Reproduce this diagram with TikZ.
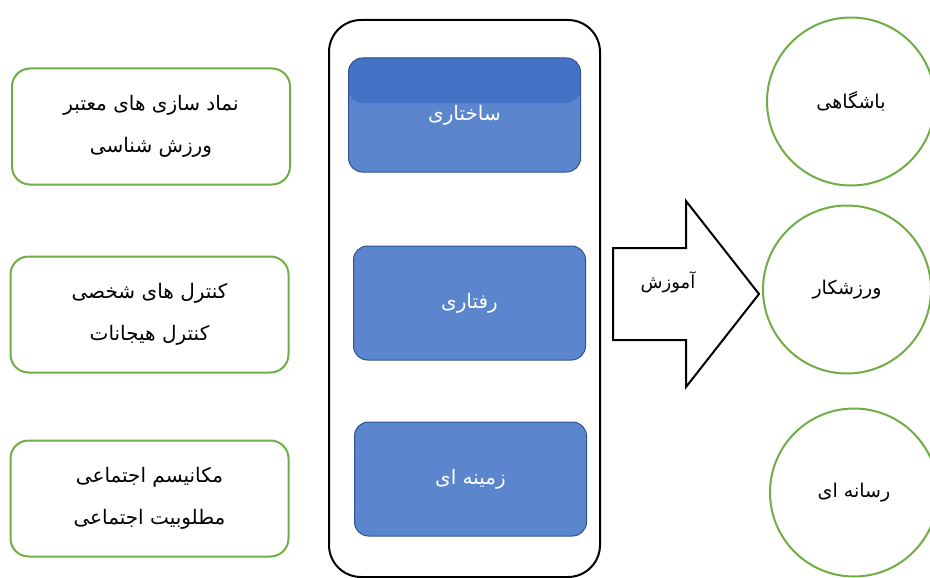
\documentclass[tikz,border=0pt]{standalone}
\usepackage{fontspec}
\usepackage{tikz}
\usetikzlibrary{positioning}
\newfontfamily\fa[Script=Arabic]{DejaVu Sans}
\TeXXeTstate=1
\definecolor{grn}{RGB}{112,173,71}
\definecolor{blu}{RGB}{91,133,204}
\definecolor{bludark}{RGB}{68,114,196}
\definecolor{bluline}{RGB}{47,82,143}

\begin{document}
\begin{tikzpicture}[x=1pt, y=-1pt,
      frm/.style={draw, line width=2pt, rounded corners=32pt, minimum width=271pt, minimum height=557pt},
      blk/.style={draw=bluline, line width=1pt, fill=blu, rounded corners=14pt, minimum width=232pt, minimum height=114pt, text=white, font=\fa\fontsize{20}{24}\selectfont},
      lbl/.style={draw=grn, line width=2pt, rounded corners=18pt, minimum width=278pt, minimum height=116pt, align=center, font=\fa\fontsize{20}{42}\selectfont},
      crc/.style={circle, draw=grn, line width=2pt, minimum size=168pt, font=\fa\fontsize{19}{23}\selectfont}
    ]
    \useasboundingbox (0,0) rectangle (930,578);
    \node[frm] (frame) at (464.5,298.5) {};
    \node[blk, path picture={\fill[bludark] (path picture bounding box.north west) rectangle ([yshift=-45pt]path picture bounding box.north east);}] (sakht) at (464.5,115) {\beginR ساختاری\endR};
    \node[blk, below=73pt of sakht, xshift=5pt] (raftar) {\beginR رفتاری\endR};
    \node[blk, below=61pt of raftar, xshift=1pt] (zamine) {\beginR زمینه ای\endR};
    \node[lbl] (namad) at (151,126.5) {\beginR نماد سازی های معتبر\endR\\\beginR ورزش شناسی\endR};
    \node[lbl, below=70pt of namad, xshift=-1.5pt] (kontrol) {\beginR کنترل های شخصی\endR\\\beginR کنترل هیجانات\endR};
    \node[lbl, below=66pt of kontrol] (mekanism) {\beginR مکانیسم اجتماعی\endR\\\beginR مطلوبیت اجتماعی\endR};
    \node[crc] (bashgah) at (851,101.5) {\beginR باشگاهی\endR};
    \node[crc, below=18pt of bashgah, xshift=-4pt] (varzesh) {\beginR ورزشکار\endR};
    \node[crc, below=33pt of varzesh, xshift=7pt] (resane) {\beginR رسانه ای\endR};
    \coordinate (amuzesh) at (613,294);
    \draw[line width=2pt] (amuzesh) ++(0,-46) -- ++(73,0) -- ++(0,-47) -- ++(73,93) -- ++(-73,93) -- ++(0,-47) -- ++(-73,0) -- cycle;
    \node[font=\fa\fontsize{18}{22}\selectfont] (amuzeshlbl) at (668,282) {\beginR آموزش\endR};
  \end{tikzpicture}
\end{document}
